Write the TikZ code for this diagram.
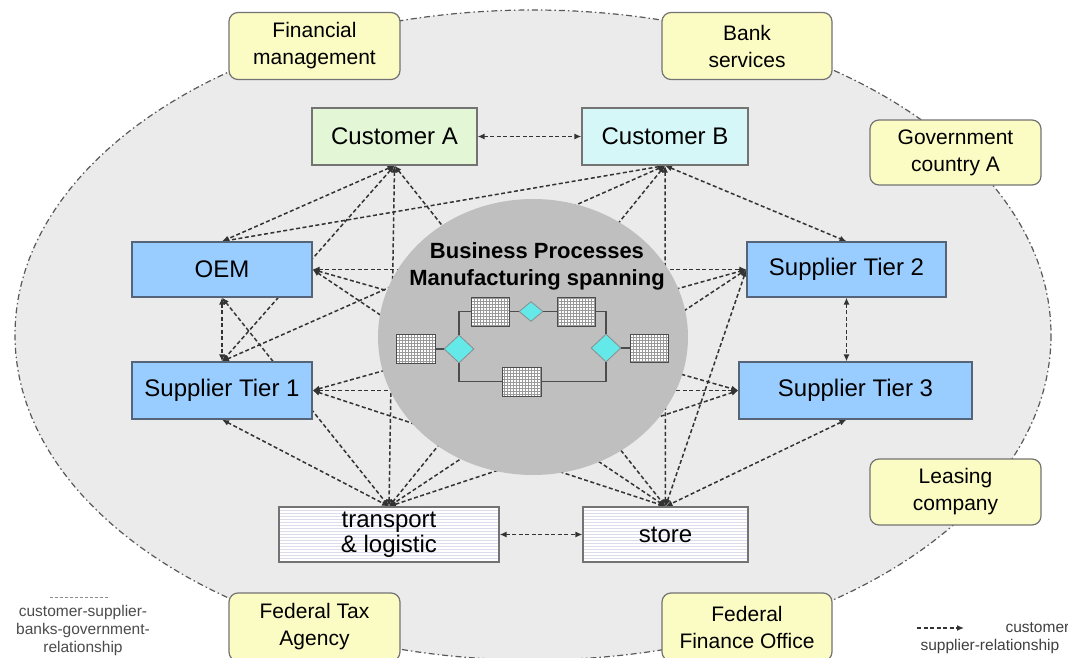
\documentclass[tikz,border=0pt]{standalone}
\usepackage{fontspec}
\setmainfont{Liberation Sans}
\usetikzlibrary{arrows.meta,patterns,shapes.geometric}
\definecolor{oemblue}{RGB}{153,204,255}
\definecolor{bluegray}{RGB}{85,100,120}
\definecolor{custgreen}{RGB}{227,246,213}
\definecolor{custcyan}{RGB}{214,247,247}
\definecolor{paleyellow}{RGB}{251,251,196}
\definecolor{bordergray}{RGB}{115,115,115}
\definecolor{turquoise}{RGB}{100,232,232}
\definecolor{stripe}{RGB}{220,220,236}
\pgfdeclarelayer{back}
\pgfdeclarelayer{links}
\pgfsetlayers{back,links,main}
\tikzset{
	partner/.style={draw=bordergray, line width=1.2pt, inner sep=0pt, align=center, minimum height=56pt, font=\fontsize{24}{25}\selectfont},
	supplier/.style={partner, fill=oemblue, draw=bluegray},
	depot/.style={partner, preaction={fill=white}, pattern=horizontal lines, pattern color=stripe},
	agency/.style={draw=bordergray, line width=1.2pt, rounded corners=9pt, fill=paleyellow, align=center, minimum width=171pt, minimum height=67pt, inner sep=0pt, font=\fontsize{21}{27}\selectfont},
	task/.style={draw=black!70, line width=1pt, preaction={fill=white}, pattern=grid, pattern color=black!40, minimum width=39pt, minimum height=29pt, inner sep=0pt},
	gate/.style={diamond, draw=black!45, fill=turquoise, line width=0.8pt, inner sep=0pt},
	flow/.style={black!70, line width=1.2pt},
	link/.style={black!80, line width=1.5pt, dash pattern=on 4pt off 2.5pt, >={Latex[length=7pt,width=6pt]}, <->}
}

\begin{document}
\begin{tikzpicture}[x=1pt, y=-1pt]
				\useasboundingbox (0,0) rectangle (1068,658);
				\begin{pgfonlayer}{back}
				\fill[white] (0,0) rectangle (1068,658);
				\draw[fill=black!8, draw=black!65, line width=1.2pt, dash pattern=on 6pt off 3pt on 1.5pt off 3pt] (533,335) ellipse [x radius=518, y radius=325];
				\end{pgfonlayer}
				
				\fill[black!25] (533,337) ellipse [x radius=155, y radius=138];
				\node[font=\bfseries\fontsize{22}{27}\selectfont, align=center] (title) at (537,266) {Business Processes\\Manufacturing spanning};
				
				\node[task] (lb) at (416,349) {};
				\node[gate, minimum width=30pt, minimum height=28pt] (ld) at (459,349) {};
				\node[task, minimum width=38pt] (tl) at (490,311.5) {};
				\node[gate, minimum width=24pt, minimum height=20pt] (td) at (531,311.5) {};
				\node[task, minimum width=38pt] (tr) at (576,311.5) {};
				\node[gate, minimum width=30pt, minimum height=28pt] (rd) at (606,348) {};
				\node[task, minimum width=38pt, minimum height=28pt] (rb) at (649,348) {};
				\node[task] (bb) at (521.5,381.5) {};
				\draw[flow] (lb.east) -- (ld.west);
				\draw[flow] (ld.north) |- (tl.west);
				\draw[flow] (tl.east) -- (td.west);
				\draw[flow] (td.east) -- (tr.west);
				\draw[flow] (tr.east) -| (rd.north);
				\draw[flow] (ld.south) |- (bb.west);
				\draw[flow] (bb.east) -| (rd.south);
				\draw[flow] (rd.east) -- (rb.west);
				
				\node[partner, fill=custgreen, minimum width=165pt, minimum height=57pt] (custA) at (394.5,136.5) {Customer A};
				\node[partner, fill=custcyan, minimum width=166pt, minimum height=57pt] (custB) at (665,136.5) {Customer B};
				\node[supplier, minimum width=180pt, minimum height=55pt] (oem) at (222,269.5) {OEM};
				\node[supplier, minimum width=180pt, minimum height=57pt] (tier1) at (222,390.5) {Supplier Tier 1};
				\node[supplier, minimum width=199pt, minimum height=55pt] (tier2) at (846.5,269.5) {Supplier Tier 2};
				\node[supplier, minimum width=233pt, minimum height=57pt] (tier3) at (855.5,390.5) {Supplier Tier 3};
				\node[depot, minimum width=220pt, minimum height=55pt, text depth=4pt] (transport) at (389,534.5) {transport\\\& logistic};
				\node[depot, minimum width=165pt, minimum height=55pt] (store) at (665.5,534.5) {store};
				
				\node[agency] (finance) at (314.5,46) {Financial\\management};
				\node[agency, minimum width=170pt] (bank) at (747,46) {Bank\\services};
				\node[agency, minimum height=65pt] (govA) at (955.5,152.5) {Government\\country A};
				\node[agency, minimum height=66pt] (leasing) at (955.5,492) {Leasing\\company};
				\node[agency, minimum height=68pt] (taxAgency) at (314.5,627) {Federal Tax\\Agency};
				\node[agency, minimum width=170pt, minimum height=68pt] (financeOffice) at (747,627) {Federal\\Finance Office};
				
				\begin{pgfonlayer}{links}
				\draw[link] (custA.east) -- (custB.west);
				\draw[link] (custA.south) -- (oem.north);
				\draw[link] (custA.south) -- (tier1.north);
				\draw[link] (custA.south) -- (transport.north);
				\draw[link] (custA.south) -- (store.north);
				\draw[link] (custB.south) -- (oem.north);
				\draw[link] (custB.south) -- (tier1.north);
				\draw[link] (custB.south) -- (tier2.north);
				\draw[link] (custB.south) -- (transport.north);
				\draw[link] (custB.south) -- (store.north);
				\draw[link] (oem.south) -- (tier1.north);
				\draw[link] (oem.south) -- (transport.north);
				\draw[link] (oem.east) -- (tier2.west);
				\draw[link] (oem.east) -- (tier3.west);
				\draw[link] (oem.east) -- (store.north);
				\draw[link] (tier1.south) -- (transport.north);
				\draw[link] (tier1.east) -- (tier2.west);
				\draw[link] (tier1.east) -- (tier3.west);
				\draw[link] (tier1.east) -- (store.north);
				\draw[link] (tier2.west) -- (transport.north);
				\draw[link] (tier2.west) -- (store.north);
				\draw[link] (tier2.south) -- (tier2.south |- tier3.north);
				\draw[link] (tier3.west) -- (transport.north);
				\draw[link] (tier2.south |- tier3.south) -- (store.north);
				\draw[link] (transport.east) -- (store.west);
				\end{pgfonlayer}
				
				\coordinate (keyA1) at (50,597);
				\coordinate (keyA2) at (108,597);
				\draw[black!45, line width=1pt, dash pattern=on 3pt off 2pt] (keyA1) -- (keyA2);
				\node[text=black!70, align=center, font=\fontsize{15.5}{18}\selectfont] (keyA) at (83,630) {customer-supplier-\\banks-government-\\relationship};
				
				\coordinate (keyB1) at (917,628);
				\coordinate (keyB2) at (964,628);
				\draw[link, ->] (keyB1) -- (keyB2);
				\node[text=black!75, anchor=west, font=\fontsize{15.5}{18}\selectfont] (keyB) at (1002,628) {customer-};
				\node[text=black!75, anchor=west, font=\fontsize{15.5}{18}\selectfont] (keyC) at (917,646) {supplier-relationship};
\end{tikzpicture}
\end{document}
